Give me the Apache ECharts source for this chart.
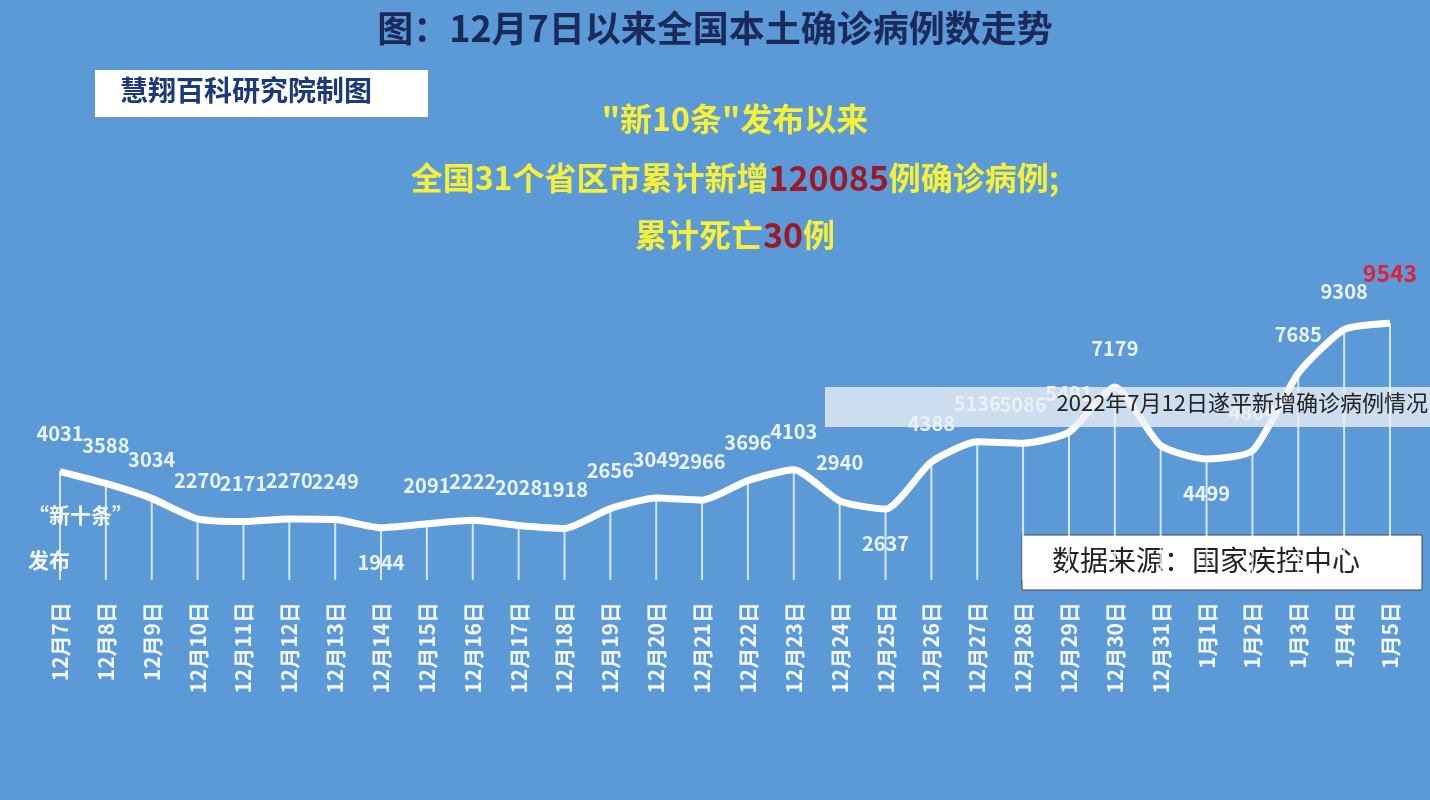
<!DOCTYPE html>
<html><head><meta charset="utf-8">
<script src="https://cdn.jsdelivr.net/npm/echarts@6/dist/echarts.min.js"></script>
<style>html,body{margin:0;padding:0;background:#5b9ad6}#c{width:1430px;height:800px}</style>
</head><body><div id="c"></div>
<script>
const categories = ['12月7日','12月8日','12月9日','12月10日','12月11日','12月12日','12月13日','12月14日','12月15日','12月16日','12月17日','12月18日','12月19日','12月20日','12月21日','12月22日','12月23日','12月24日','12月25日','12月26日','12月27日','12月28日','12月29日','12月30日','12月31日','1月1日','1月2日','1月3日','1月4日','1月5日'];
const cases = [4031,3588,3034,2270,2171,2270,2249,1944,2091,2222,2028,1918,2656,3049,2966,3696,4103,2940,2637,4388,5136,5086,5491,7179,5000,4499,4804,7685,9308,9543];
const belowIdx = [7,18,25];
const F = '"Noto Sans CJK SC", sans-serif';
const chart = echarts.init(document.getElementById('c'));
const lineData = cases.map((v,i)=>{
  const d = {value:v};
  if (belowIdx.includes(i)) d.label = {position:'bottom', distance:24};
  if (i===cases.length-1) d.label = {color:'#e0203a', fontSize:23, distance:38};
  if (i===24) d.label = {show:false};
  return d;
});
chart.setOption({
  backgroundColor:'#5b9ad6',
  grid:{left:60,right:40,top:311,height:269},
  xAxis:{type:'category',data:categories,boundaryGap:false,
    axisLine:{show:false},axisTick:{show:false},splitLine:{show:false},
    axisLabel:{rotate:90,margin:22,color:'#f2f7ff',fontSize:21,fontWeight:'bold',fontFamily:F,interval:0}},
  yAxis:{type:'value',min:0,max:10000,show:false},
  series:[
    {type:'bar',data:cases,barWidth:2,itemStyle:{color:'rgba(255,255,255,0.75)'},silent:true,z:1},
    {type:'line',data:lineData,symbol:'circle',symbolSize:1,showSymbol:true,smooth:0.2,
     itemStyle:{color:'#fff'},lineStyle:{color:'#fff',width:7},z:3,
     labelLayout:{hideOverlap:false},
     label:{show:true,position:'top',distance:28,color:'#eaf4ff',fontSize:20,fontWeight:'bold',fontFamily:F}}
  ],
  graphic:[
    {type:'text',left:'center',top:10,style:{text:'图：12月7日以来全国本土确诊病例数走势',font:'bold 36px '+F,fill:'#1a2a5a'}},
    {type:'rect',shape:{x:95,y:70,width:333,height:47},style:{fill:'#ffffff'}},
    {type:'text',x:120,y:76,style:{text:'慧翔百科研究院制图',font:'bold 28px '+F,fill:'#1a3a7a'}},
    {type:'text',x:735,y:103,style:{text:'"新10条"发布以来',font:'bold 32px '+F,fill:'#f5f03a',align:'center'}},
    {type:'text',x:735,y:161,style:{text:'{a|全国31个省区市累计新增}{b|120085}{a|例确诊病例;}',align:'center',
      rich:{a:{font:'bold 32px '+F,fill:'#f5f03a'},b:{font:'bold 34px '+F,fill:'#9a1a2a'}}}},
    {type:'text',x:735,y:218,style:{text:'{a|累计死亡}{b|30}{a|例}',align:'center',
      rich:{a:{font:'bold 32px '+F,fill:'#f5f03a'},b:{font:'bold 34px '+F,fill:'#9a1a2a'}}}},
    {type:'text',x:28,y:505,style:{text:'“新十条”',font:'bold 21px '+F,fill:'#f2f7ff'}},
    {type:'text',x:28,y:550,style:{text:'发布',font:'bold 21px '+F,fill:'#f2f7ff'}},
    {type:'rect',shape:{x:1022,y:535,width:400,height:55},style:{fill:'#ffffff',stroke:'#444',lineWidth:1}},
    {type:'text',x:1052,y:546,style:{text:'数据来源：国家疾控中心',font:'28px '+F,fill:'#222'}},
    {type:'rect',shape:{x:825,y:387,width:605,height:40},style:{fill:'rgba(235,240,245,0.78)'},z:10},
    {type:'text',x:1428,y:392,z:11,style:{text:'2022年7月12日遂平新增确诊病例情况',font:'22px '+F,fill:'#222',align:'right'}}
  ]
});
</script></body></html>
